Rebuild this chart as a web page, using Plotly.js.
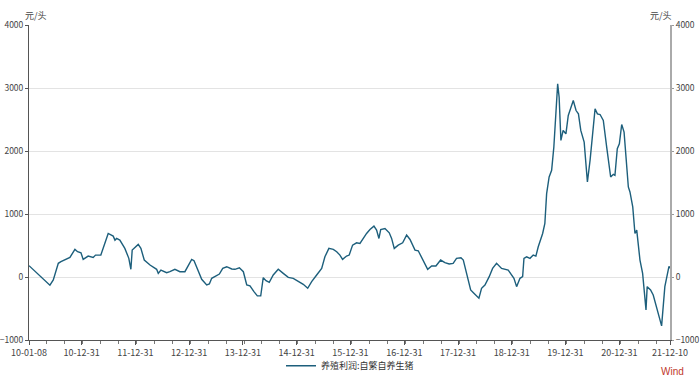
<!DOCTYPE html>
<html>
<head>
<meta charset="utf-8">
<script src="https://cdn.plot.ly/plotly-3.0.1.min.js"></script>
<style>html,body{margin:0;padding:0;background:#fff;}#chart{width:700px;height:381px;}</style>
</head>
<body>
<div id="chart"></div>
<script>
const seriesName = '养殖利润:自繁自养生猪';
const unitLabel = '元/头';
const sourceLabel = 'Wind';

const dates = [
'2010-01-08','2010-05-30','2010-06-22','2010-07-26','2010-08-13','2010-09-09','2010-10-13','2010-11-16','2010-12-04','2010-12-27',
'2011-01-11','2011-02-14','2011-03-20','2011-04-05','2011-05-11','2011-06-30','2011-08-03','2011-08-15','2011-08-26','2011-09-17',
'2011-10-21','2011-11-17','2011-12-01','2011-12-10','2012-01-20','2012-02-07','2012-03-01','2012-04-09','2012-05-24','2012-06-04',
'2012-06-22','2012-07-31','2012-08-22','2012-09-25','2012-10-29','2012-12-02','2013-01-17','2013-02-02','2013-03-26','2013-04-29',
'2013-05-17','2013-06-02','2013-07-06','2013-07-24','2013-08-16','2013-09-12','2013-10-16','2013-11-07','2013-12-07','2014-01-03',
'2014-01-26','2014-02-17','2014-03-16','2014-04-08','2014-05-01','2014-05-18','2014-06-06','2014-06-28','2014-07-25','2014-08-28',
'2014-10-01','2014-11-04','2014-12-08','2015-01-11','2015-02-14','2015-03-16','2015-04-12','2015-05-16','2015-06-19','2015-07-11',
'2015-08-07','2015-09-06','2015-09-29','2015-10-21','2015-11-08','2015-12-05','2015-12-23','2016-01-15','2016-02-11','2016-03-05',
'2016-03-27','2016-04-19','2016-05-12','2016-06-08','2016-06-26','2016-07-12','2016-07-24','2016-08-22','2016-09-20','2016-10-06',
'2016-10-24','2016-11-20','2016-12-20','2017-01-16','2017-02-08','2017-03-14','2017-04-05','2017-05-09','2017-06-08','2017-07-05',
'2017-08-03','2017-09-04','2017-10-03','2017-11-01','2017-11-28','2017-12-21','2018-01-20','2018-02-05','2018-02-28','2018-03-27',
'2018-04-18','2018-05-22','2018-06-09','2018-07-02','2018-07-31','2018-08-23','2018-09-19','2018-10-23','2018-12-07','2018-12-23',
'2019-01-15','2019-02-02','2019-02-25','2019-03-15','2019-03-24','2019-04-11','2019-05-04','2019-05-26','2019-06-13','2019-06-29',
'2019-07-10','2019-07-29','2019-08-13','2019-08-25','2019-09-11','2019-09-28','2019-10-13','2019-11-08','2019-11-18','2019-11-30',
'2019-12-15','2020-01-03','2020-01-19','2020-02-22','2020-03-12','2020-03-28','2020-04-13','2020-05-06','2020-05-28','2020-06-15',
'2020-07-19','2020-08-04','2020-08-22','2020-09-13','2020-10-06','2020-11-02','2020-11-20','2020-12-01','2020-12-17','2020-12-31',
'2021-01-16','2021-02-01','2021-03-02','2021-03-13','2021-04-01','2021-04-16','2021-04-28','2021-05-20','2021-06-07','2021-06-30',
'2021-07-08','2021-07-31','2021-08-18','2021-09-21','2021-10-14','2021-11-05','2021-11-24','2021-12-03','2021-12-10'
];

const profit = [
180,-131,-47,217,243,269,311,438,401,385,
279,332,311,348,348,691,649,585,612,585,
454,296,122,427,517,454,269,190,122,58,
111,68,84,122,84,84,280,258,-37,-127,
-111,-21,32,47,137,163,127,122,147,84,
-127,-142,-232,-300,-300,-11,-58,-84,32,122,
58,-5,-21,-74,-116,-179,-74,32,137,321,
454,438,400,348,280,332,348,506,543,533,
612,691,754,807,744,612,754,770,701,612,
454,506,543,665,596,427,416,269,122,174,
174,269,227,206,217,296,306,269,58,-206,
-258,-337,-179,-127,5,137,217,137,111,58,
-21,-153,-21,5,296,321,296,348,332,480,
559,691,850,1324,1587,1693,2062,3065,2853,2168,
2326,2273,2563,2801,2642,2590,2326,2141,1508,1851,
2669,2590,2579,2484,2062,1587,1630,1614,2036,2115,
2421,2299,1429,1350,1112,691,744,269,58,-522,
-153,-206,-285,-574,-775,-153,111,170,140
];

const tickDates = ['2010-01-08','2010-12-31','2011-12-31','2012-12-31','2013-12-31','2014-12-31','2015-12-31','2016-12-31','2017-12-31','2018-12-31','2019-12-31','2020-12-31','2021-12-10'];
const tickLabels = ['10-01-08','10-12-31','11-12-31','12-12-31','13-12-31','14-12-31','15-12-31','16-12-31','17-12-31','18-12-31','19-12-31','20-12-31','21-12-10'];
const yTicks = [-1000,0,1000,2000,3000,4000];

const font = {family: '"Noto Sans CJK SC", "Noto Sans", sans-serif', size: 9, color: '#444'};

const traces = [
  {x: dates, y: profit, type: 'scatter', mode: 'lines', name: seriesName,
   line: {color: '#1d5f7c', width: 1.4}, hoverinfo: 'skip'},
  {x: dates, y: profit, type: 'scatter', mode: 'lines', yaxis: 'y2', showlegend: false,
   line: {color: 'rgba(0,0,0,0)', width: 0}, hoverinfo: 'skip'}
];

const layout = {
  width: 700, height: 381,
  margin: {l: 29, r: 30, t: 25, b: 41, autoexpand: false},
  paper_bgcolor: '#fff', plot_bgcolor: '#fff',
  font: font,
  showlegend: true,
  legend: {orientation: 'h', xref: 'container', yref: 'container', x: 0.5, xanchor: 'center', y: 0.04, yanchor: 'middle',
           font: {family: font.family, size: 9, color: '#333'}, bgcolor: 'rgba(0,0,0,0)'},
  xaxis: {
    type: 'date', range: ['2010-01-08', '2021-12-10'],
    tickmode: 'array', tickvals: tickDates, ticktext: tickLabels,
    ticks: 'outside', ticklen: 4, tickcolor: '#555', tickfont: {size: 9, color: '#444'},
    showline: true, linecolor: '#555', linewidth: 1, showgrid: false, zeroline: false,
    minor: {dtick: 'M4', tick0: '2010-01-08', ticks: 'outside', ticklen: 3, tickcolor: '#777', showgrid: false}
  },
  yaxis: {
    range: [-1000, 4000], tickvals: yTicks, ticks: 'outside', ticklen: 3, tickcolor: '#555',
    showline: true, linecolor: '#555', linewidth: 1,
    showgrid: true, gridcolor: '#e3e3e3', zeroline: false, tickfont: {size: 8.5, color: '#444'}
  },
  yaxis2: {
    range: [-1000, 4000], tickvals: yTicks, overlaying: 'y', side: 'right',
    ticks: 'outside', ticklen: 2, tickcolor: '#999',
    showline: true, linecolor: '#aaa', linewidth: 2, showgrid: false, zeroline: false,
    tickfont: {size: 8.5, color: '#444'}
  },
  annotations: [
    {text: unitLabel, xref: 'paper', yref: 'paper', x: 0, y: 1, xanchor: 'left', yanchor: 'bottom', yshift: 1, xshift: -6,
     showarrow: false, font: {size: 9, color: '#444'}},
    {text: unitLabel, xref: 'paper', yref: 'paper', x: 1, y: 1, xanchor: 'right', yanchor: 'bottom', yshift: 1, xshift: 4,
     showarrow: false, font: {size: 9, color: '#444'}},
    {text: sourceLabel, xref: 'paper', yref: 'paper', x: 1, y: -0.1, xanchor: 'center', yanchor: 'middle', xshift: 2,
     showarrow: false, font: {family: 'Arial, sans-serif', size: 10, color: '#c0392b'}}
  ]
};

Plotly.newPlot('chart', traces, layout, {displayModeBar: false, staticPlot: true});
</script>
</body>
</html>
